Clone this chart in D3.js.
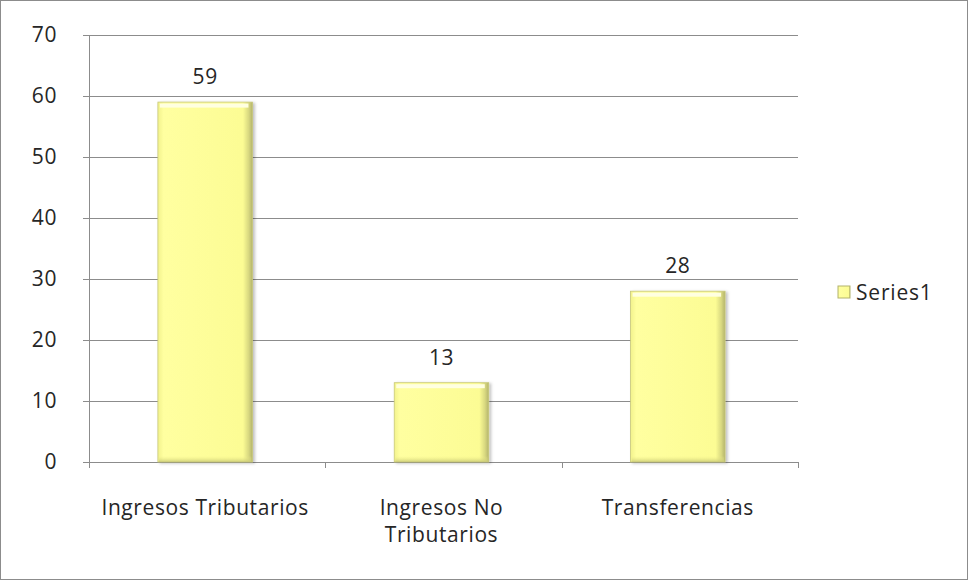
<!DOCTYPE html>
<html>
<head>
<meta charset="utf-8">
<script src="https://cdn.jsdelivr.net/npm/d3@7"></script>
<style>
  body { margin: 0; background: #fff; }
  text { font-family: "Open Sans", "Noto Sans", sans-serif; fill: #262626; }
</style>
</head>
<body>
<div id="plot"></div>
<script>
var categories = ["Ingresos Tributarios", "Ingresos No Tributarios", "Transferencias"];
var labelLines = [["Ingresos Tributarios"], ["Ingresos No", "Tributarios"], ["Transferencias"]];
var values = [59, 13, 28];
var yTicks = [0, 10, 20, 30, 40, 50, 60, 70];
var seriesName = "Series1";

var W = 969, H = 581;
var margin = {top: 35, right: 171, bottom: 119, left: 89},
    width = W - margin.left - margin.right,
    height = H - margin.top - margin.bottom;

var root = d3.select("#plot").append("svg")
    .attr("width", W)
    .attr("height", H);

var defs = root.append("defs");
var grad = defs.append("linearGradient").attr("id", "barGrad")
    .attr("x1", 0).attr("x2", 1).attr("y1", 0).attr("y2", 0);
grad.append("stop").attr("offset", "0%").attr("stop-color", "#f2f28c");
grad.append("stop").attr("offset", "6%").attr("stop-color", "#ffffa0");
grad.append("stop").attr("offset", "90%").attr("stop-color", "#fcfc94");
grad.append("stop").attr("offset", "96%").attr("stop-color", "#d8d880");
grad.append("stop").attr("offset", "100%").attr("stop-color", "#b4b46c");

var vgrad = defs.append("linearGradient").attr("id", "botGrad")
    .attr("x1", 0).attr("x2", 0).attr("y1", 0).attr("y2", 1);
vgrad.append("stop").attr("offset", "0%").attr("stop-color", "#f0f08a").attr("stop-opacity", 0);
vgrad.append("stop").attr("offset", "100%").attr("stop-color", "#c8c878").attr("stop-opacity", 0.9);

var filt = defs.append("filter").attr("id", "shadow")
    .attr("x", "-10%").attr("y", "-10%").attr("width", "130%").attr("height", "130%");
filt.append("feDropShadow").attr("dx", 2).attr("dy", 1).attr("stdDeviation", 1.5)
    .attr("flood-color", "#000").attr("flood-opacity", 0.25);

// outer frame
root.append("rect")
    .attr("x", 0.5).attr("y", 0.5)
    .attr("width", W - 2).attr("height", H - 2)
    .attr("fill", "none").attr("stroke", "#8c8c8c");

var svg = root.append("g")
    .attr("transform", "translate(" + margin.left + "," + margin.top + ")");

var x = d3.scaleBand().domain(categories).range([-2, width - 2]).paddingInner(0.6).paddingOuter(0.3);
var xb = d3.scaleBand().domain(categories).range([0, width]);
var y = d3.scaleLinear().domain([0, 70]).range([height, 0]);

// gridlines
svg.selectAll(".grid").data(yTicks.slice(1)).enter().append("line")
    .attr("x1", 0).attr("x2", width)
    .attr("y1", function(d) { return Math.round(y(d)) + 0.5; })
    .attr("y2", function(d) { return Math.round(y(d)) + 0.5; })
    .attr("stroke", "#8c8c8c").attr("stroke-width", 1);

// y axis
var yAxis = svg.append("g")
    .call(d3.axisLeft(y).tickValues(yTicks).tickSize(6).tickPadding(26));
yAxis.select(".domain").attr("stroke", "#8c8c8c");
yAxis.selectAll(".tick line").attr("stroke", "#8c8c8c");
yAxis.selectAll(".tick text").style("font-size", "21px").style("letter-spacing", "0.6px").attr("fill", "#262626");

// x axis baseline and ticks at category boundaries
svg.append("line").attr("x1", 0).attr("x2", width)
    .attr("y1", height + 0.5).attr("y2", height + 0.5)
    .attr("stroke", "#8c8c8c");
var bounds = [0].concat(categories.map(function(c) { return xb(c) + xb.bandwidth(); }));
svg.selectAll(".xtick").data(bounds).enter().append("line")
    .attr("x1", function(d) { return Math.round(d) + 0.5; })
    .attr("x2", function(d) { return Math.round(d) + 0.5; })
    .attr("y1", height).attr("y2", height + 6)
    .attr("stroke", "#8c8c8c");

// bars
svg.selectAll(".bar").data(values).enter().append("rect")
    .attr("x", function(d, i) { return x(categories[i]); })
    .attr("y", function(d) { return y(d); })
    .attr("width", x.bandwidth())
    .attr("height", function(d) { return height - y(d); })
    .attr("fill", "url(#barGrad)")
    .attr("stroke", "#c8c878").attr("stroke-width", 0.8)
    .attr("filter", "url(#shadow)");

// bevel highlight on top
svg.selectAll(".hl").data(values).enter().append("rect")
    .attr("x", function(d, i) { return x(categories[i]) + 2; })
    .attr("y", function(d) { return y(d) + 1.5; })
    .attr("width", x.bandwidth() - 6)
    .attr("height", 4)
    .attr("fill", "#ffffe0");

// darker bottom edge
svg.selectAll(".bt").data(values).enter().append("rect")
    .attr("x", function(d, i) { return x(categories[i]) + 1; })
    .attr("y", height - 6)
    .attr("width", x.bandwidth() - 2)
    .attr("height", 6)
    .attr("fill", "url(#botGrad)");

// value labels
svg.selectAll(".val").data(values).enter().append("text")
    .attr("x", function(d, i) { return x(categories[i]) + x.bandwidth() / 2; })
    .attr("y", function(d) { return y(d) - 18; })
    .attr("text-anchor", "middle")
    .style("font-size", "21px")
    .style("letter-spacing", "0.6px")
    .text(function(d) { return d; });

// category labels
labelLines.forEach(function(lines, i) {
  var cx = xb(categories[i]) + xb.bandwidth() / 2;
  lines.forEach(function(l, j) {
    svg.append("text")
      .attr("x", cx - 2)
      .attr("y", height + 53 + j * 27)
      .attr("text-anchor", "middle")
      .style("font-size", "21px")
      .style("letter-spacing", "0.6px")
      .text(l);
  });
});

// legend
var leg = root.append("g").attr("transform", "translate(838,286)");
leg.append("rect").attr("width", 12).attr("height", 12)
    .attr("fill", "url(#barGrad)").attr("stroke", "#b4b46c");
leg.append("text").attr("x", 18).attr("y", 14)
    .style("font-size", "21px").style("letter-spacing", "0.8px").text(seriesName);
</script>
</body>
</html>
